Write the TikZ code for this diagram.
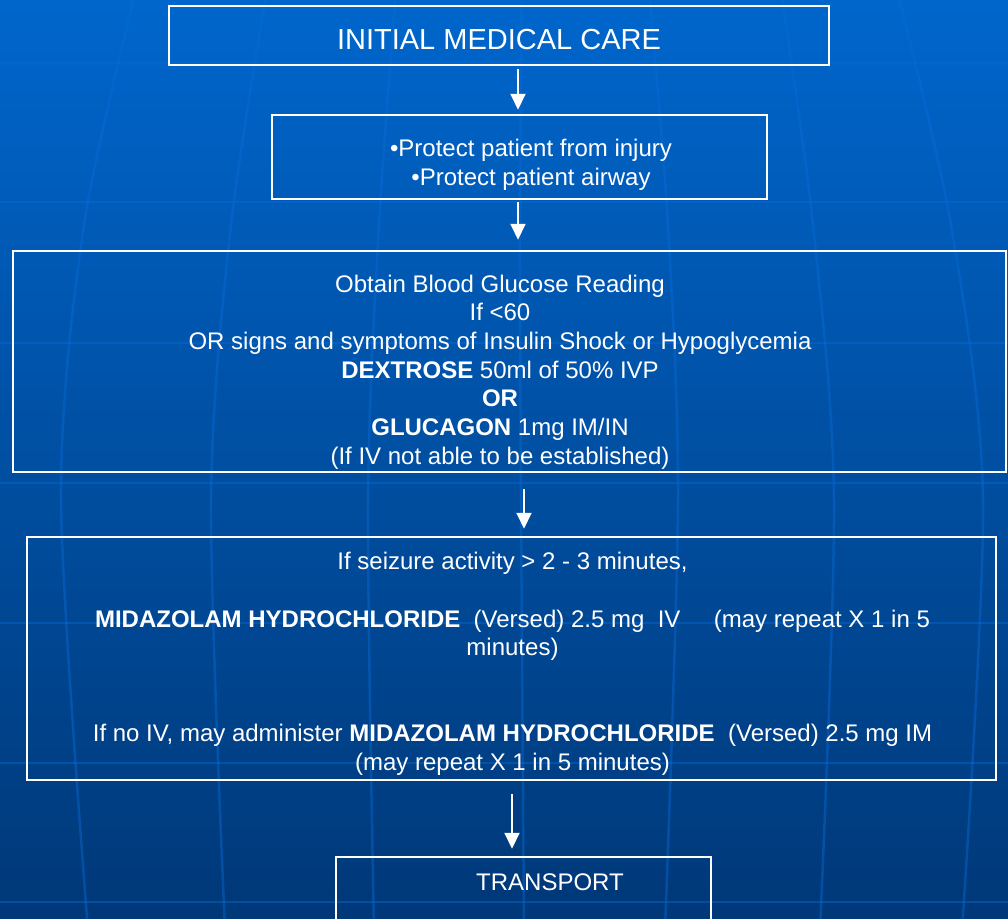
\documentclass[tikz,border=0pt]{standalone}
\usepackage{fontspec}
\setmainfont{Liberation Sans}
\usetikzlibrary{arrows.meta}

\definecolor{bgtop}{RGB}{0,102,204}
\definecolor{bgmid}{RGB}{0,82,166}
\definecolor{bgbot}{RGB}{0,56,120}
\definecolor{gridblue}{RGB}{8,108,218}

\tikzset{
  stepbox/.style={draw=white, line width=2.5pt, inner sep=0pt, rectangle},
  txt/.style={text=white, inner sep=0pt, align=center,
              font=\fontsize{24}{28.7}\selectfont},
  arr/.style={draw=white, line width=2pt, -{Triangle[length=16pt,width=15pt]}},
  gridline/.style={draw=gridblue, line width=2.5pt, opacity=0.42},
}

\begin{document}
\begin{tikzpicture}[x=1pt, y=-1pt]
  \useasboundingbox (0,0) rectangle (1008,918);
  \clip (0,0) rectangle (1008,918);

  % slide background
  \shade[top color=bgtop, middle color=bgmid, bottom color=bgbot]
    (0,0) rectangle (1008,918);

  % faint globe grid: latitudes
  \foreach \yy in {63,202,343,483,623,763,902}
    \draw[gridline] (-5,\yy) -- (1013,\yy);
  % faint globe grid: meridians
  \draw[gridline] plot[smooth] coordinates {(136,-10) (84,225) (61,500) (88,930)};
  \draw[gridline] plot[smooth] coordinates {(267,-10) (231,225) (211,500) (225,930)};
  \draw[gridline] plot[smooth] coordinates {(396,-10) (379,225) (368,500) (374,930)};
  \draw[gridline] plot[smooth] coordinates {(522,-10) (520,225) (521,500) (524,930)};
  \draw[gridline] plot[smooth] coordinates {(649,-10) (668,225) (678,500) (665,930)};
  \draw[gridline] plot[smooth] coordinates {(781,-10) (813,225) (834,500) (820,930)};
  \draw[gridline] plot[smooth] coordinates {(897,-10) (951,225) (983,500) (962,930)};

  % flowchart boxes
  \node[stepbox, minimum width=660pt, minimum height=59pt]  (b1) at (499,35.5) {};
  \node[stepbox, minimum width=495pt, minimum height=84pt]  (b2) at (519.5,157) {};
  \node[stepbox, minimum width=993pt, minimum height=221pt] (b3) at (509.5,361.5) {};
  \node[stepbox, minimum width=969pt, minimum height=243pt] (b4) at (511.5,658.5) {};
  \node[stepbox, minimum width=375pt, minimum height=86pt]  (b5) at (523.5,900) {};

  % box texts
  \node[txt, font=\fontsize{29}{34}\selectfont] (t1) at (499,40) {INITIAL MEDICAL CARE};
  \node[txt] (t2) at (531,165) {•Protect patient from injury\\•Protect patient airway};
  \node[txt] (t3) at (500,372) {Obtain Blood Glucose Reading\\
    If <60\\
    OR signs and symptoms of Insulin Shock or Hypoglycemia\\
    \textbf{DEXTROSE} 50ml of 50\% IVP\\
    \textbf{OR}\\
    \textbf{GLUCAGON} 1mg IM/IN\\
    (If IV not able to be established)};
  \node[txt] (t4) at (512.5,664) {If seizure activity > 2 - 3 minutes,\\[28.7pt]
    \textbf{MIDAZOLAM HYDROCHLORIDE}\ \ (Versed) 2.5 mg\ \ IV\ \ \ \ \ (may repeat X 1 in 5\\
    minutes)\\[57.4pt]
    If no IV, may administer \textbf{MIDAZOLAM HYDROCHLORIDE}\ \ (Versed) 2.5 mg IM\\
    (may repeat X 1 in 5 minutes)};
  \node[txt] (t5) at (550,882) {TRANSPORT};

  % connectors
  \draw[arr] ([xshift=19pt,yshift=-3pt]b1.south) -- ([xshift=-1.5pt,yshift=4pt]b2.north);
  \draw[arr] ([xshift=-1.5pt,yshift=-2pt]b2.south) -- ([xshift=8.5pt,yshift=10pt]b3.north);
  \draw[arr] ([xshift=14.5pt,yshift=-16pt]b3.south) -- ([xshift=12.5pt,yshift=7pt]b4.north);
  \draw[arr] ([xshift=0.5pt,yshift=-13pt]b4.south) -- ([xshift=-11.5pt,yshift=7pt]b5.north);
\end{tikzpicture}
\end{document}
